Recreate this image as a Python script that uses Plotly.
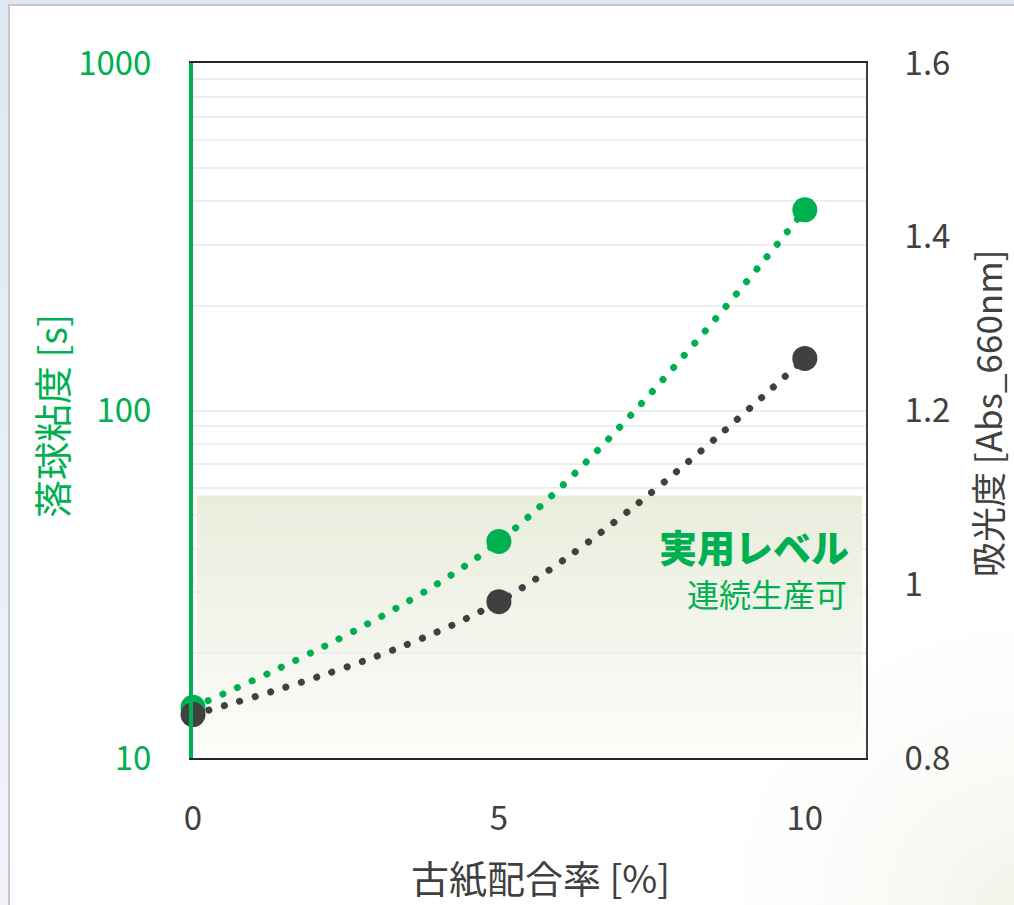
import base64
import math
import plotly.graph_objects as go

# --- data -------------------------------------------------------------
ratio = [0, 5, 10]                     # 古紙配合率 [%]
viscosity = [14, 42, 378]              # 落球粘度 [s]
absorbance = [0.85, 0.98, 1.26]        # 吸光度 [Abs_660nm]
practical_limit = 57                   # 実用レベル upper bound [s]

x_ticks = [0, 5, 10]
visc_major = [10, 100, 1000]
abs_ticks = [0.8, 1.0, 1.2, 1.4, 1.6]
abs_labels = ["0.8", "1", "1.2", "1.4", "1.6"]

# --- geometry / style ----------------------------------------------------
W, H = 1014, 905
ML, MR, MT, MB = 193, 148, 63, 147
PW, PH = W - ML - MR, H - MT - MB
X_RANGE = [0, 11]
Y_LOG_RANGE = [1, 3]

GREEN = "#00b050"
DARK = "#404040"
FONT = "Noto Sans CJK JP, sans-serif"


def px_x(px):
    return (px - ML) / PW


def px_y(py):
    return (H - MB - py) / PH


def svg_uri(svg):
    return "data:image/svg+xml;base64," + base64.b64encode(svg.encode()).decode()


# full-page backdrop: bluish frame, white card, faint green glow bottom right
page_svg = f"""<svg xmlns='http://www.w3.org/2000/svg' width='{W}' height='{H}' viewBox='0 0 {W} {H}' preserveAspectRatio='none'>
<defs>
<linearGradient id='o' x1='0' y1='0' x2='0' y2='1'>
<stop offset='0' stop-color='#dfe7f3'/><stop offset='1' stop-color='#f1f4f9'/></linearGradient>
<radialGradient id='g' cx='{W}' cy='{H}' r='380' gradientUnits='userSpaceOnUse'>
<stop offset='0' stop-color='#f1f4ea'/><stop offset='1' stop-color='#ffffff' stop-opacity='0'/></radialGradient>
</defs>
<rect width='{W}' height='{H}' fill='url(#o)'/>
<rect x='9' y='5' width='{W + 10}' height='{H + 10}' fill='#ffffff' stroke='#c6c6c6' stroke-width='2'/>
<rect x='10' y='6' width='{W}' height='{H}' fill='url(#g)'/>
</svg>"""

# practical-level band: soft vertical gradient
band_svg = """<svg xmlns='http://www.w3.org/2000/svg' width='100' height='100' viewBox='0 0 100 100' preserveAspectRatio='none'>
<defs><linearGradient id='b' x1='0' y1='0' x2='0' y2='1'>
<stop offset='0' stop-color='#e8eddb'/><stop offset='1' stop-color='#fdfdfb'/></linearGradient></defs>
<rect width='100' height='100' fill='url(#b)'/></svg>"""

band_x0, band_x1 = 0.06, 10.94
band_top = (math.log10(practical_limit) - Y_LOG_RANGE[0]) / (Y_LOG_RANGE[1] - Y_LOG_RANGE[0])

# log-axis grid: every integer multiple within each decade
visc_grid = [m * 10 ** d for d in (1, 2) for m in range(1, 10)] + [1000]
visc_text = [str(v) if v in visc_major else "" for v in visc_grid]

fig = go.Figure()

fig.add_trace(go.Scatter(
    x=ratio, y=viscosity, name="落球粘度",
    mode="lines+markers",
    line=dict(color=GREEN, width=7, dash="0.1px,16px", shape="spline", smoothing=1),
    marker=dict(color=GREEN, size=25),
    cliponaxis=False, yaxis="y",
))
fig.add_trace(go.Scatter(
    x=ratio, y=absorbance, name="吸光度",
    mode="lines+markers",
    line=dict(color=DARK, width=7, dash="0.1px,16px", shape="spline", smoothing=1),
    marker=dict(color=DARK, size=25),
    cliponaxis=False, yaxis="y2",
))

fig.update_layout(
    width=W, height=H, autosize=False,
    margin=dict(l=ML, r=MR, t=MT, b=MB, pad=0),
    paper_bgcolor="#ffffff",
    plot_bgcolor="rgba(0,0,0,0)",
    showlegend=False,
    font=dict(family=FONT, color=DARK),
    xaxis=dict(
        range=X_RANGE, tickvals=x_ticks,
        showgrid=False, zeroline=False,
        showline=True, linecolor="#262626", linewidth=2, mirror=True,
        ticks="", ticklabelstandoff=30,
        tickfont=dict(size=33, color=DARK, family=FONT),
    ),
    yaxis=dict(
        type="log", range=Y_LOG_RANGE,
        tickvals=visc_grid, ticktext=visc_text,
        showgrid=True, gridcolor="#eeeeee", gridwidth=2,
        zeroline=False,
        showline=True, linecolor=GREEN, linewidth=4,
        ticks="", ticklabelstandoff=31,
        tickfont=dict(size=33, color=GREEN, family=FONT),
    ),
    yaxis2=dict(
        overlaying="y", side="right",
        range=[0.8, 1.6], tickvals=abs_ticks, ticktext=abs_labels,
        showgrid=False, zeroline=False,
        showline=True, linecolor=DARK, linewidth=2,
        ticks="", ticklabelstandoff=30,
        tickfont=dict(size=33, color=DARK, family=FONT),
    ),
    images=[
        dict(source=svg_uri(page_svg), xref="paper", yref="paper",
             x=px_x(0), y=px_y(0), sizex=W / PW, sizey=H / PH,
             xanchor="left", yanchor="top", sizing="stretch", layer="below"),
        dict(source=svg_uri(band_svg), xref="paper", yref="paper",
             x=band_x0 / X_RANGE[1], y=band_top,
             sizex=(band_x1 - band_x0) / X_RANGE[1], sizey=band_top,
             xanchor="left", yanchor="top", sizing="stretch", layer="below"),
    ],
    annotations=[
        dict(text="実用レベル", xref="paper", yref="paper",
             x=px_x(851), y=px_y(545), xanchor="right", yanchor="middle",
             showarrow=False, font=dict(family=FONT, size=38, color=GREEN, weight=900)),
        dict(text="連続生産可", xref="paper", yref="paper",
             x=px_x(849), y=px_y(593), xanchor="right", yanchor="middle",
             showarrow=False, font=dict(family=FONT, size=32, color=GREEN)),
        dict(text="落球粘度 [s]", xref="paper", yref="paper",
             x=px_x(50), y=px_y(416), xanchor="center", yanchor="middle",
             textangle=-90, showarrow=False,
             font=dict(family=FONT, size=38, color=GREEN)),
        dict(text="吸光度 [Abs_660nm]", xref="paper", yref="paper",
             x=px_x(986), y=px_y(414), xanchor="center", yanchor="middle",
             textangle=-90, showarrow=False,
             font=dict(family=FONT, size=35, color=DARK)),
        dict(text="古紙配合率 [%]", xref="paper", yref="paper",
             x=px_x(540), y=px_y(877), xanchor="center", yanchor="middle",
             showarrow=False, font=dict(family=FONT, size=38, color=DARK)),
    ],
)

# round caps turn the short dashes into round dots
round_caps = (
    "document.querySelectorAll('.scatterlayer .js-line')"
    ".forEach(function(p){p.style.strokeLinecap='round';});"
)

fig.write_html("out.html", post_script=round_caps)
